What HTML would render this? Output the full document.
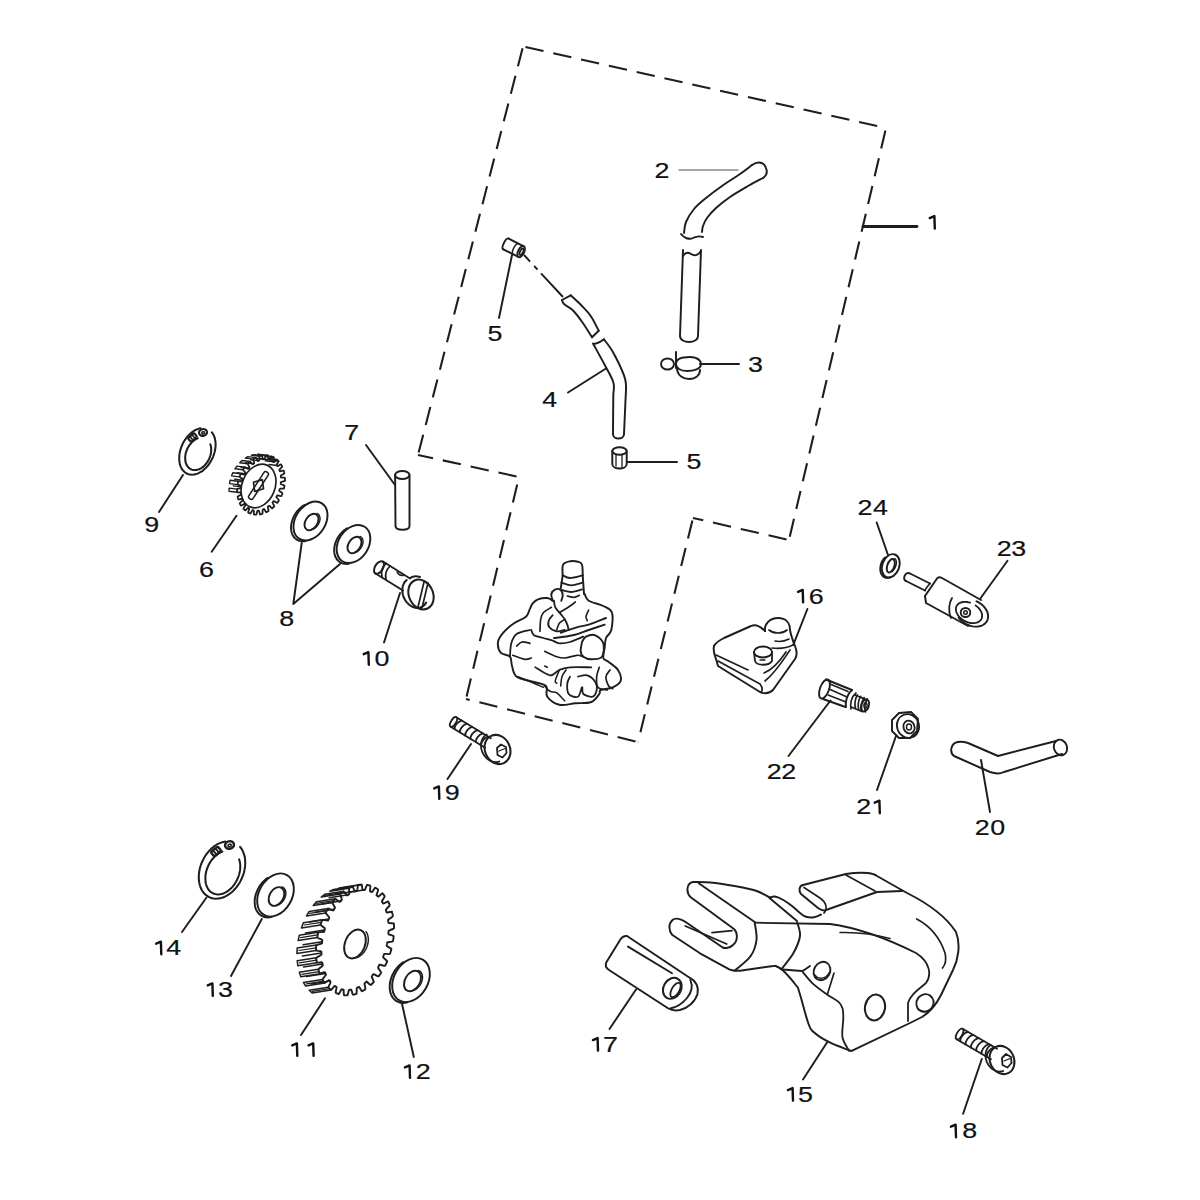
<!DOCTYPE html>
<html><head><meta charset="utf-8"><title>Parts diagram</title>
<style>
html,body{margin:0;padding:0;background:#fff;width:1200px;height:1200px;overflow:hidden}
svg{display:block}
.t{font-family:"Liberation Sans",sans-serif;font-size:22px;fill:#111;text-anchor:middle;stroke:#111;stroke-width:0.2}
</style></head><body>
<svg width="1200" height="1200" viewBox="0 0 1200 1200">
<rect width="1200" height="1200" fill="#fff"/>
<g fill="none" stroke="#1e1e1e" stroke-width="1.95" stroke-linecap="round" stroke-linejoin="round">
<path d="M523,46.5 L886,128" stroke-width="2.1" stroke-dasharray="18.5 10" stroke-dashoffset="26" stroke-linecap="butt"/>
<path d="M886,128 L789,540" stroke-width="2.1" stroke-dasharray="18.5 10" stroke-dashoffset="26" stroke-linecap="butt"/>
<path d="M789,540 L693,518" stroke-width="2.1" stroke-dasharray="18.5 10" stroke-dashoffset="26" stroke-linecap="butt"/>
<path d="M693,518 L638,742" stroke-width="2.1" stroke-dasharray="18.5 10" stroke-dashoffset="26" stroke-linecap="butt"/>
<path d="M638,742 L466,699" stroke-width="2.1" stroke-dasharray="18.5 10" stroke-dashoffset="26" stroke-linecap="butt"/>
<path d="M466,699 L519,477" stroke-width="2.1" stroke-dasharray="18.5 10" stroke-dashoffset="26" stroke-linecap="butt"/>
<path d="M519,477 L418,455" stroke-width="2.1" stroke-dasharray="18.5 10" stroke-dashoffset="26" stroke-linecap="butt"/>
<path d="M418,455 L523,46.5" stroke-width="2.1" stroke-dasharray="18.5 10" stroke-dashoffset="26" stroke-linecap="butt"/>
<g>
<path d="M863,226.5 L917,226.5" stroke-width="2.76"/>
<path d="M679,170 L738,170" stroke="#8a8a8a" stroke-width="1.38"/>
<path d="M700,364 L739,364" stroke-width="2.07"/>
<path d="M606,368.5 L568,392.5"/>
<path d="M512,255 L499,318"/>
<path d="M627,462 L677,462" stroke-width="2.07"/>
<path d="M366,445 L395,485"/>
<path d="M183,475 L159,512"/>
<path d="M236.5,515.7 L211.7,551.7"/>
<path d="M301.7,543 L293.3,604 L340,564"/>
<path d="M400,593 L384,642.5"/>
<path d="M471,744 L447.5,779"/>
<path d="M807.4,609 L793.3,644.8"/>
<path d="M876.7,522.5 L888,555"/>
<path d="M1007.5,560.8 L980,599"/>
<path d="M830.5,700.5 L788.5,756"/>
<path d="M896,736 L877,790"/>
<path d="M981,760 L990,812"/>
<path d="M206.5,897.5 L182,932"/>
<path d="M261.8,919 L231,976"/>
<path d="M325,998.3 L301,1035"/>
<path d="M402,1003.8 L413.8,1057"/>
<path d="M636,989.5 L609.5,1029"/>
<path d="M827.5,1041.7 L803,1079.5"/>
<path d="M981.8,1059 L963.1,1113.8"/>
</g>
<g>
<path d="M684,233 C684.3,231.2 684.3,226 686,222 C687.7,218 690.7,213 694,209 C697.3,205 701.3,201.8 706,198 C710.7,194.2 716.3,190 722,186 C727.7,182 735,177.5 740,174 C745,170.5 750,166.5 752,165" />
<path d="M752,165 C758,161 764,162 766,168 C768,173 766,176 763,178" />
<path d="M763,178 C760.5,179.3 753.5,182.8 748,186 C742.5,189.2 735.3,193.3 730,197 C724.7,200.7 719.8,204.5 716,208 C712.2,211.5 709.2,215 707,218 C704.8,221 703.8,223.7 703,226 C702.2,228.3 702.2,231 702,232" />
<path d="M681,234 C684,238 689,240 693,238 C697,236 700,236 703,237" />
<path d="M701,251 C698,256 694,256 691,254 C688,252 685,253 683,256" />
<path d="M683,250 L680,336 C680,344 698,344 698,336 L701,250" />
<ellipse cx="667.5" cy="364" rx="6.5" ry="5.5" />
<path d="M676,364 C676,358 684,357 690,357 C698,357 701,361 701,364 C701,369 694,371 687,371 C680,371 676,368 676,364" />
<path d="M677,368 C677,376 684,379 689,379 C696,379 700,375 700,370" />
<path d="M676,352 L676,368" />
<path d="M562,300 C562.3,300.7 562.1,302.2 564,304 C565.9,305.8 570.2,307.6 573.3,310.7 C576.4,313.8 579.6,318.3 582.7,322.7 C585.8,327.1 590.5,334.9 592,337.3" />
<path d="M562,300 L570.7,295.3" />
<path d="M570.7,295.3 C572.5,297 578,301.9 581.3,305.3 C584.6,308.8 587.8,311.8 590.7,316 C593.6,320.2 597.4,328.2 598.7,330.7" />
<path d="M598.7,330.7 L592,337.3" />
<path d="M593,343.5 C596,345 600,342 604,339.3" />
<path d="M604,339.3 C605.5,341.5 610,346.7 613.3,352.7 C616.6,358.7 621.9,369.8 624,375.3 C626.1,380.9 625.8,381.1 626,386 C626.2,390.9 625.6,396.7 625.3,404.7 C625,412.7 624.2,429.1 624,434" />
<path d="M624,434 C624,440 613,440 613,434" />
<path d="M613,434 C613,427.8 613.2,405.2 613.3,396.7 C613.4,388.2 614.8,388.1 613.5,383 C612.2,377.9 608.7,372.5 605.3,366 C601.9,359.5 595.3,347.7 593.3,344" />
<g transform="translate(514,248) rotate(27)"><path d="M-9,-6 L8,-6 M-9,6 L8,6" /><path d="M-9,-6 C-12,-6 -12,6 -9,6" /><ellipse cx="8" cy="0" rx="3" ry="6" /><ellipse cx="8.5" cy="0" rx="1.5" ry="3.5" /><path d="M2,-6 C-1,-6 -1,6 2,6" stroke-width="1.44"/></g>
<path d="M524,255 L563,297" stroke-dasharray="9 6 5 5 40" stroke-linecap="butt" stroke-width="1.92"/>
<ellipse cx="619.5" cy="451" rx="7.2" ry="3.8" />
<path d="M612.3,451 L612.3,464 C612.3,470 626.7,470 626.7,464 L626.7,451" />
<path d="M616,455 L616,466 M622,455 L622,467" stroke-width="1.32"/>
<ellipse cx="402.3" cy="475" rx="7.2" ry="4" />
<path d="M395.1,475 L395.5,526 C395.5,531 409.5,531 409.5,526 L409.5,475" />
<ellipse cx="310.5" cy="521" rx="15" ry="21" transform="rotate(33 310.5 521)" />
<path d="M305.8,541 L304.3,541.2 L302.8,541.3 L301.3,541.2 L299.9,540.9 L298.5,540.5 L297.2,539.9 L296.1,539.1 L295,538.2 L294,537.2 L293.2,536 L292.5,534.7 L291.9,533.3 L291.5,531.8 L291.2,530.2 L291,528.6 L291,526.8 L291.2,525.1 L291.5,523.3 L291.9,521.5 L292.5,519.7 L293.2,517.9 L294,516.1 L295,514.4 L296,512.8 L297.2,511.2 L298.5,509.8 L299.8,508.4 L301.3,507.2 L302.7,506.1 L304.3,505.1" />
<ellipse cx="311.5" cy="522" rx="6" ry="9" transform="rotate(33 311.5 522)" />
<path d="M317,513.5 L317.5,513.7 L318,514 L318.4,514.3 L318.8,514.7 L319.1,515.2 L319.4,515.7 L319.7,516.3 L319.8,516.9 L320,517.6 L320,518.3 L320,519 L320,519.7 L319.8,520.5 L319.6,521.2 L319.4,522 L319.1,522.8 L318.8,523.5 L318.4,524.2 L317.9,524.9 L317.4,525.6 L316.9,526.3 L316.3,526.9 L315.8,527.4 L315.1,527.9 L314.5,528.4 L313.9,528.8 L313.2,529.1 L312.6,529.4 L311.9,529.5 L311.3,529.7" stroke-width="1.44"/>
<ellipse cx="353.5" cy="544" rx="15" ry="20.5" transform="rotate(33 353.5 544)" />
<path d="M349.1,563.6 L347.5,563.9 L346,563.9 L344.5,563.8 L343.1,563.5 L341.8,563.1 L340.5,562.5 L339.3,561.7 L338.3,560.8 L337.3,559.8 L336.4,558.6 L335.7,557.3 L335.1,556 L334.7,554.5 L334.4,552.9 L334.2,551.3 L334.2,549.6 L334.3,547.8 L334.6,546.1 L335,544.3 L335.5,542.5 L336.2,540.8 L337,539.1 L338,537.4 L339,535.8 L340.2,534.3 L341.4,532.9 L342.7,531.6 L344.1,530.3 L345.6,529.3 L347.1,528.3" />
<ellipse cx="354.5" cy="545" rx="6" ry="9" transform="rotate(33 354.5 545)" />
<path d="M360,536.5 L360.5,536.7 L361,537 L361.4,537.3 L361.8,537.7 L362.1,538.2 L362.4,538.7 L362.7,539.3 L362.8,539.9 L363,540.6 L363,541.3 L363,542 L363,542.7 L362.8,543.5 L362.6,544.2 L362.4,545 L362.1,545.8 L361.8,546.5 L361.4,547.2 L360.9,547.9 L360.4,548.6 L359.9,549.3 L359.3,549.9 L358.8,550.4 L358.1,550.9 L357.5,551.4 L356.9,551.8 L356.2,552.1 L355.6,552.4 L354.9,552.5 L354.3,552.7" stroke-width="1.44"/>
<ellipse cx="275.5" cy="895" rx="16.5" ry="23" transform="rotate(30 275.5 895)" />
<path d="M271.8,916.9 L270.1,917.3 L268.4,917.4 L266.8,917.4 L265.2,917.2 L263.7,916.8 L262.3,916.2 L260.9,915.4 L259.7,914.5 L258.6,913.4 L257.6,912.2 L256.7,910.8 L256,909.3 L255.4,907.7 L255,905.9 L254.8,904.1 L254.7,902.2 L254.7,900.3 L254.9,898.3 L255.3,896.3 L255.8,894.3 L256.5,892.3 L257.3,890.4 L258.3,888.4 L259.3,886.6 L260.5,884.8 L261.8,883.2 L263.2,881.6 L264.7,880.2 L266.3,878.8 L267.9,877.7" />
<ellipse cx="276.5" cy="896.5" rx="7" ry="10" transform="rotate(30 276.5 896.5)" />
<path d="M281.9,886.9 L282.5,887.1 L283.1,887.4 L283.6,887.8 L284.1,888.2 L284.5,888.7 L284.9,889.3 L285.2,889.9 L285.5,890.6 L285.7,891.3 L285.8,892.1 L285.9,892.9 L285.8,893.7 L285.8,894.6 L285.6,895.5 L285.4,896.3 L285.1,897.2 L284.8,898 L284.4,898.9 L283.9,899.7 L283.4,900.5 L282.9,901.2 L282.3,901.9 L281.7,902.6 L281,903.2 L280.3,903.7 L279.6,904.1 L278.9,904.5 L278.2,904.8 L277.4,905.1 L276.7,905.2" stroke-width="1.44"/>
<ellipse cx="411" cy="980" rx="17" ry="23.5" transform="rotate(30 411 980)" />
<path d="M407.3,1002.4 L405.6,1002.8 L403.9,1002.9 L402.2,1002.9 L400.6,1002.7 L399,1002.2 L397.5,1001.6 L396.2,1000.9 L394.9,999.9 L393.7,998.8 L392.7,997.5 L391.8,996.1 L391.1,994.6 L390.5,992.9 L390.1,991.1 L389.8,989.3 L389.7,987.3 L389.7,985.3 L389.9,983.3 L390.3,981.3 L390.8,979.2 L391.5,977.2 L392.3,975.2 L393.3,973.2 L394.4,971.3 L395.6,969.5 L397,967.8 L398.4,966.2 L399.9,964.7 L401.5,963.4 L403.2,962.2" />
<ellipse cx="412.5" cy="981" rx="7.5" ry="11" transform="rotate(30 412.5 981)" />
<path d="M418.3,970.5 L419,970.7 L419.6,971 L420.1,971.4 L420.7,971.9 L421.1,972.4 L421.5,973.1 L421.9,973.8 L422.1,974.5 L422.3,975.3 L422.5,976.1 L422.5,977 L422.5,977.9 L422.4,978.9 L422.2,979.8 L422,980.8 L421.7,981.7 L421.3,982.7 L420.9,983.6 L420.4,984.5 L419.8,985.3 L419.2,986.1 L418.6,986.9 L417.9,987.6 L417.2,988.3 L416.4,988.9 L415.6,989.4 L414.9,989.8 L414.1,990.2 L413.3,990.4 L412.5,990.6" stroke-width="1.44"/>
<ellipse cx="890.8" cy="565.8" rx="8.5" ry="12" transform="rotate(20 890.8 565.8)" />
<path d="M890.5,577.2 L889.7,577.6 L888.9,577.8 L888,577.9 L887.2,578 L886.4,577.9 L885.6,577.7 L884.9,577.5 L884.2,577.1 L883.5,576.7 L882.9,576.1 L882.3,575.5 L881.8,574.8 L881.4,574 L881,573.1 L880.7,572.2 L880.5,571.3 L880.4,570.3 L880.3,569.2 L880.3,568.2 L880.4,567.1 L880.6,566 L880.8,564.9 L881.2,563.9 L881.5,562.8 L882,561.8 L882.5,560.8 L883.1,559.9 L883.7,559 L884.4,558.2 L885.1,557.5" />
<ellipse cx="890.8" cy="565.8" rx="3.5" ry="7" transform="rotate(20 890.8 565.8)" />
<path d="M894.1,558.6 L894.4,558.6 L894.7,558.7 L895,558.9 L895.3,559.1 L895.5,559.3 L895.8,559.6 L895.9,560 L896.1,560.4 L896.2,560.9 L896.3,561.3 L896.4,561.9 L896.4,562.4 L896.4,563 L896.3,563.6 L896.2,564.2 L896.1,564.8 L895.9,565.4 L895.7,566 L895.5,566.6 L895.3,567.3 L895,567.8 L894.7,568.4 L894.4,568.9 L894.1,569.4 L893.7,569.9 L893.4,570.3 L893,570.7 L892.6,571.1 L892.2,571.4 L891.9,571.6" stroke-width="1.44"/>
<path d="M211.9,432.4 L212.7,433.6 L213.4,434.8 L214.1,436.1 L214.6,437.6 L215,439.1 L215.3,440.7 L215.5,442.4 L215.6,444.1 L215.6,445.8 L215.4,447.6 L215.2,449.5 L214.8,451.3 L214.3,453.1 L213.7,455 L213.1,456.8 L212.3,458.6 L211.4,460.3 L210.4,461.9 L209.4,463.6 L208.3,465.1 L207.1,466.5 L205.8,467.9 L204.5,469.1 L203.2,470.3 L201.8,471.3 L200.4,472.2 L199,472.9 L197.6,473.6 L196.1,474.1 L194.7,474.4 L193.3,474.6 L191.9,474.7 L190.5,474.6 L189.2,474.4 L188,474 L186.8,473.5 L185.6,472.8 L184.6,472 L183.6,471.1 L182.7,470.1 L181.9,468.9 L181.2,467.7 L180.6,466.3 L180.1,464.9 L179.7,463.3 L179.4,461.7 L179.3,460 L179.2,458.3 L179.3,456.5 L179.4,454.7 L179.7,452.9 L180.1,451 L180.6,449.2 L181.2,447.4 L181.9,445.6 L182.7,443.8 L183.6,442.1 L184.6,440.4 L185.7,438.9 L186.8,437.3 L188,435.9 L189.3,434.6 L190.6,433.4 L191.9,432.3 L193.3,431.3 L194.7,430.4 L196.2,429.7 L197.6,429.1 L199,428.6 L200.5,428.3" stroke-width="2.04"/>
<path d="M210.3,444.2 L210.6,445.2 L210.9,446.2 L211.1,447.2 L211.2,448.3 L211.2,449.4 L211.2,450.5 L211.1,451.7 L211,452.9 L210.7,454 L210.5,455.2 L210.1,456.4 L209.7,457.5 L209.2,458.7 L208.7,459.8 L208.1,460.8 L207.5,461.9 L206.8,462.9 L206,463.8 L205.3,464.7 L204.5,465.6 L203.6,466.4 L202.7,467.1 L201.9,467.7 L200.9,468.3 L200,468.8 L199.1,469.2 L198.1,469.6 L197.2,469.8 L196.3,470 L195.3,470.1 L194.4,470.1 L193.5,470 L192.7,469.9 L191.8,469.6 L191,469.3 L190.2,468.9 L189.5,468.4 L188.8,467.9 L188.2,467.2 L187.6,466.5 L187.1,465.7 L186.6,464.9 L186.2,464 L185.9,463.1 L185.6,462.1 L185.4,461.1 L185.3,460 L185.2,458.9 L185.2,457.8 L185.2,456.6 L185.4,455.5 L185.5,454.3 L185.8,453.1 L186.1,451.9 L186.5,450.8 L187,449.6 L187.5,448.5 L188,447.4 L188.6,446.4 L189.3,445.4 L190,444.4 L190.8,443.5 L191.6,442.6 L192.4,441.8 L193.3,441 L194.1,440.4 L195.1,439.7 L196,439.2 L196.9,438.7 L197.8,438.4" stroke-width="2.04"/>
<g transform="translate(192.5,437.5) rotate(-40) scale(0.9)"><rect x="-4.5" y="-2.8" width="9" height="5.6" rx="1.5" stroke-width="2.40"/><path d="M-1.5,-2.8 L-1.5,2.8 M1.5,-2.8 L1.5,2.8" stroke-width="1.80"/></g>
<g transform="translate(203,432.5) rotate(-15) scale(0.9)"><ellipse cx="0" cy="0" rx="4.5" ry="3.8" stroke-width="2.40"/><ellipse cx="0" cy="0.5" rx="1.6" ry="1.3" stroke-width="1.68"/></g>
<path d="M240.1,846.9 L241.2,848.4 L242.2,849.9 L243,851.6 L243.7,853.4 L244.3,855.3 L244.8,857.3 L245.1,859.3 L245.2,861.5 L245.2,863.7 L245.1,865.9 L244.8,868.1 L244.4,870.4 L243.9,872.7 L243.2,874.9 L242.3,877.1 L241.4,879.3 L240.3,881.4 L239.1,883.5 L237.8,885.4 L236.4,887.3 L234.9,889 L233.4,890.7 L231.7,892.2 L230.1,893.5 L228.3,894.7 L226.5,895.8 L224.7,896.7 L222.9,897.5 L221,898 L219.2,898.4 L217.4,898.6 L215.6,898.7 L213.9,898.5 L212.2,898.2 L210.5,897.7 L209,897 L207.5,896.2 L206.1,895.2 L204.8,894 L203.6,892.7 L202.6,891.3 L201.6,889.7 L200.8,888 L200.1,886.1 L199.6,884.2 L199.2,882.2 L198.9,880.1 L198.8,878 L198.8,875.8 L199,873.5 L199.3,871.3 L199.7,869 L200.3,866.8 L201,864.5 L201.9,862.3 L202.9,860.2 L204,858.1 L205.2,856 L206.5,854.1 L207.9,852.3 L209.4,850.6 L211,848.9 L212.7,847.5 L214.4,846.1 L216.1,845 L217.9,843.9 L219.8,843.1 L221.6,842.4 L223.4,841.9 L225.3,841.5" stroke-width="2.04"/>
<path d="M239.1,859.3 L239.5,860.6 L239.8,862 L240.1,863.4 L240.2,864.8 L240.3,866.3 L240.2,867.9 L240.1,869.4 L239.9,871 L239.6,872.6 L239.2,874.2 L238.7,875.8 L238.1,877.3 L237.5,878.8 L236.8,880.3 L236,881.8 L235.1,883.2 L234.2,884.6 L233.2,885.9 L232.2,887.1 L231.1,888.2 L229.9,889.3 L228.8,890.3 L227.6,891.1 L226.4,891.9 L225.1,892.6 L223.9,893.2 L222.6,893.7 L221.3,894 L220.1,894.3 L218.8,894.4 L217.6,894.4 L216.4,894.3 L215.3,894.1 L214.2,893.8 L213.1,893.3 L212.1,892.8 L211.1,892.2 L210.2,891.4 L209.3,890.6 L208.6,889.6 L207.9,888.6 L207.3,887.5 L206.7,886.3 L206.3,885 L205.9,883.7 L205.6,882.3 L205.5,880.8 L205.4,879.3 L205.4,877.8 L205.4,876.3 L205.6,874.7 L205.9,873.1 L206.2,871.5 L206.7,869.9 L207.2,868.4 L207.8,866.8 L208.5,865.3 L209.3,863.8 L210.1,862.4 L211,861 L211.9,859.7 L213,858.5 L214,857.3 L215.1,856.2 L216.3,855.2 L217.5,854.2 L218.7,853.4 L219.9,852.7 L221.2,852.1 L222.4,851.5" stroke-width="2.04"/>
<g transform="translate(216,851.5) rotate(-40) scale(1.0)"><rect x="-4.5" y="-2.8" width="9" height="5.6" rx="1.5" stroke-width="2.40"/><path d="M-1.5,-2.8 L-1.5,2.8 M1.5,-2.8 L1.5,2.8" stroke-width="1.80"/></g>
<g transform="translate(229.5,845) rotate(-15) scale(1.0)"><ellipse cx="0" cy="0" rx="4.5" ry="3.8" stroke-width="2.40"/><ellipse cx="0" cy="0.5" rx="1.6" ry="1.3" stroke-width="1.68"/></g>
<path d="M281.7,492.6 L282.4,493.3 L282.3,493.8 L282.1,494.3 L281.9,494.7 L281.7,495.2 L281.5,495.6 L281.3,496.1 L279.7,495.8 L277.8,495.3 L277.1,495.5 L276.9,495.9 L276.7,496.2 L276.5,496.6 L276.3,497 L277.1,498 L278.4,499.5 L278.9,500.4 L278.7,500.8 L278.4,501.3 L278.1,501.7 L277.8,502.1 L277.6,502.5 L277.3,502.8 L275.8,502.2 L274.2,501.2 L273.5,501.2 L273.3,501.5 L273,501.8 L272.7,502.2 L272.5,502.5 L273,503.6 L273.9,505.4 L274.2,506.5 L273.8,506.8 L273.5,507.1 L273.2,507.5 L272.8,507.8 L272.5,508.1 L272.1,508.4 L271,507.4 L269.6,506 L269.1,505.8 L268.8,506.1 L268.4,506.3 L268.1,506.5 L267.8,506.8 L268,508 L268.5,510 L268.5,511.1 L268.2,511.3 L267.8,511.5 L267.4,511.7 L267,511.9 L266.6,512.1 L266.3,512.3 L265.4,511.1 L264.5,509.4 L264,509 L263.7,509.2 L263.4,509.3 L263.1,509.5 L262.7,509.6 L262.6,510.8 L262.6,512.8 L262.4,513.9 L262,514 L261.6,514.1 L261.2,514.2 L260.8,514.3 L260.4,514.4 L260,514.4 L259.6,513 L259.1,511.1 L258.8,510.6 L258.5,510.6 L258.2,510.7 L257.8,510.7 L257.5,510.7 L257.1,511.9 L256.6,513.8 L256.1,514.7 L255.7,514.7 L255.4,514.7 L255,514.6 L254.6,514.6 L254.2,514.6 L253.9,514.5 L253.8,512.9 L253.9,511 L253.7,510.4 L253.4,510.3 L253.1,510.3 L252.8,510.2 L252.5,510.1 L251.9,511.1 L250.9,512.8 L250.2,513.5 L249.9,513.4 L249.5,513.2 L249.2,513.1 L248.8,512.9 L248.5,512.8 L248.2,512.6 L248.5,511 L249.2,509.2 L249.1,508.5 L248.9,508.3 L248.6,508.2 L248.4,508 L248.1,507.8 L247.2,508.5 L245.9,509.9 L245,510.4 L244.7,510.1 L244.5,509.9 L244.2,509.6 L243.9,509.3 L243.6,509.1 L243.4,508.8 L244.1,507.3 L245.2,505.7 L245.4,505 L245.2,504.7 L245,504.5 L244.8,504.2 L244.6,503.9 L243.5,504.4 L241.9,505.3 L240.9,505.5 L240.7,505.2 L240.5,504.8 L240.3,504.5 L240.1,504.1 L239.9,503.7 L239.7,503.3 L240.9,502.1 L242.3,500.7 L242.7,500.1 L242.5,499.8 L242.4,499.4 L242.3,499.1 L242.2,498.7 L241,498.9 L239.2,499.3 L238.2,499.3 L238.1,498.9 L238,498.4 L237.9,498 L237.8,497.5 L237.7,497.1 L237.6,496.7 L239,495.7 L240.7,494.8 L241.2,494.2 L241.2,493.8 L241.1,493.4 L241.1,493 L241.1,492.6 L239.9,492.4 L238,492.4 L237,492 L237,491.6 L237,491.1 L237,490.6 L237,490.1 L237,489.7 L237,489.2 L238.6,488.6 L240.5,488.1 L241.1,487.7 L241.1,487.3 L241.2,486.9 L241.2,486.4 L241.3,486 L240.2,485.5 L238.3,484.9 L237.5,484.3 L237.6,483.8 L237.7,483.4 L237.8,482.9 L237.9,482.4 L238,481.9 L238.1,481.4 L239.7,481.3 L241.7,481.3 L242.3,481 L242.5,480.6 L242.6,480.1 L242.7,479.7 L242.9,479.3 L241.9,478.5 L240.3,477.4 L239.6,476.7 L239.7,476.2 L239.9,475.7 L240.1,475.3 L240.3,474.8 L240.5,474.4 L240.7,473.9 L242.3,474.2 L244.2,474.7 L244.9,474.5 L245.1,474.1 L245.3,473.8 L245.5,473.4 L245.7,473 L244.9,472 L243.6,470.5 L243.1,469.6 L243.3,469.2 L243.6,468.7 L243.9,468.3 L244.2,467.9 L244.4,467.5 L244.7,467.2 L246.2,467.8 L247.8,468.8 L248.5,468.8 L248.7,468.5 L249,468.2 L249.3,467.8 L249.5,467.5 L249,466.4 L248.1,464.6 L247.8,463.5 L248.2,463.2 L248.5,462.9 L248.8,462.5 L249.2,462.2 L249.5,461.9 L249.9,461.6 L251,462.6 L252.4,464 L252.9,464.2 L253.2,463.9 L253.6,463.7 L253.9,463.5 L254.2,463.2 L254,462 L253.5,460 L253.5,458.9 L253.8,458.7 L254.2,458.5 L254.6,458.3 L255,458.1 L255.4,457.9 L255.7,457.7 L256.6,458.9 L257.5,460.6 L258,461 L258.3,460.8 L258.6,460.7 L258.9,460.5 L259.3,460.4 L259.4,459.2 L259.4,457.2 L259.6,456.1 L260,456 L260.4,455.9 L260.8,455.8 L261.2,455.7 L261.6,455.6 L262,455.6 L262.4,457 L262.9,458.9 L263.2,459.4 L263.5,459.4 L263.8,459.3 L264.2,459.3 L264.5,459.3 L264.9,458.1 L265.4,456.2 L265.9,455.3 L266.3,455.3 L266.6,455.3 L267,455.4 L267.4,455.4 L267.8,455.4 L268.1,455.5 L268.2,457.1 L268.1,459 L268.3,459.6 L268.6,459.7 L268.9,459.7 L269.2,459.8 L269.5,459.9 L270.1,458.9 L271.1,457.2 L271.8,456.5 L272.1,456.6 L272.5,456.8 L272.8,456.9 L273.2,457.1 L273.5,457.2 L273.8,457.4 L273.5,459 L272.8,460.8 L272.9,461.5 L273.1,461.7 L273.4,461.8 L273.6,462 L273.9,462.2 L274.8,461.5 L276.1,460.1 L277,459.6 L277.3,459.9 L277.5,460.1 L277.8,460.4 L278.1,460.7 L278.4,460.9 L278.6,461.2 L277.9,462.7 L276.8,464.3 L276.6,465 L276.8,465.3 L277,465.5 L277.2,465.8 L277.4,466.1 L278.5,465.6 L280.1,464.7 L281.1,464.5 L281.3,464.8 L281.5,465.2 L281.7,465.5 L281.9,465.9 L282.1,466.3 L282.3,466.7 L281.1,467.9 L279.7,469.3 L279.3,469.9 L279.5,470.2 L279.6,470.6 L279.7,470.9 L279.8,471.3 L281,471.1 L282.8,470.7 L283.8,470.7 L283.9,471.1 L284,471.6 L284.1,472 L284.2,472.5 L284.3,472.9 L284.4,473.3 L283,474.3 L281.3,475.2 L280.8,475.8 L280.8,476.2 L280.9,476.6 L280.9,477 L280.9,477.4 L282.1,477.6 L284,477.6 L285,478 L285,478.4 L285,478.9 L285,479.4 L285,479.9 L285,480.3 L285,480.8 L283.4,481.4 L281.5,481.9 L280.9,482.3 L280.9,482.7 L280.8,483.1 L280.8,483.6 L280.7,484 L281.8,484.5 L283.7,485.1 L284.5,485.7 L284.4,486.2 L284.3,486.6 L284.2,487.1 L284.1,487.6 L284,488.1 L283.9,488.6 L282.3,488.7 L280.3,488.7 L279.7,489 L279.5,489.4 L279.4,489.9 L279.3,490.3 L279.1,490.7 L280.1,491.5 L281.7,492.6" stroke-width="1.80"/>
<path d="M237.1,492.3 L229.1,491.3 L229,488.1 L237,489.1" stroke-width="1.38"/>
<path d="M241.2,486.9 L233.2,485.9" stroke-width="1.38"/>
<path d="M237.5,484.6 L229.5,483.6 L230.1,480.3 L238.1,481.3" stroke-width="1.38"/>
<path d="M242.6,480.2 L234.6,479.2" stroke-width="1.38"/>
<path d="M239.5,476.9 L231.5,475.9 L232.8,472.8 L240.8,473.8" stroke-width="1.38"/>
<path d="M245.2,473.8 L237.2,472.8" stroke-width="1.38"/>
<path d="M242.9,469.8 L234.9,468.8 L236.8,466.1 L244.8,467.1" stroke-width="1.38"/>
<path d="M249,468.2 L241,467.2" stroke-width="1.38"/>
<path d="M247.7,463.7 L239.7,462.7 L241.9,460.5 L249.9,461.5" stroke-width="1.38"/>
<path d="M253.5,463.7 L245.5,462.7" stroke-width="1.38"/>
<path d="M253.3,459.1 L245.3,458.1 L247.8,456.6 L255.8,457.6" stroke-width="1.38"/>
<path d="M258.6,460.7 L250.6,459.7" stroke-width="1.38"/>
<path d="M259.4,456.2 L251.4,455.2 L254.1,454.6 L262.1,455.6" stroke-width="1.38"/>
<path d="M263.8,459.3 L255.8,458.3" stroke-width="1.38"/>
<path d="M265.7,455.3 L257.7,454.3 L260.2,454.5 L268.2,455.5" stroke-width="1.38"/>
<path d="M268.8,459.7 L260.8,458.7" stroke-width="1.38"/>
<path d="M271.6,456.4 L263.6,455.4 L265.9,456.5 L273.9,457.5" stroke-width="1.38"/>
<path d="M273.3,461.8 L265.3,460.8" stroke-width="1.38"/>
<path d="M276.8,459.5 L268.8,458.5 L270.7,460.3 L278.7,461.3" stroke-width="1.38"/>
<path d="M277,465.5 L269,464.5" stroke-width="1.38"/>
<ellipse cx="258.5" cy="486" rx="16.5" ry="22.5" transform="rotate(22 258.5 486)" stroke-width="1.68"/>
<g transform="translate(258.5,485.5) rotate(-57)"><path d="M-14,-2.5 L14,-2.5 C16.5,-2.5 16.5,2.5 14,2.5 L-14,2.5 C-16.5,2.5 -16.5,-2.5 -14,-2.5 Z" stroke-width="1.56"/><path d="M-7,0 L0,-6 L7,0 L0,6 Z" stroke-width="1.68"/></g>
<path d="M391.2,949.7 L391,950.5 L390.8,951.3 L390.5,952.1 L390.3,952.9 L390.1,953.6 L388.8,954.1 L386.1,953.9 L384.2,953.9 L383.9,954.6 L383.7,955.3 L383.4,956 L383.1,956.7 L383.4,957.6 L385.4,959.5 L387.2,961.3 L386.9,962 L386.5,962.8 L386.2,963.5 L385.9,964.2 L385.5,965 L385.1,965.7 L383.9,965.8 L381.4,965 L379.5,964.6 L379.2,965.3 L378.9,965.9 L378.5,966.5 L378.2,967.1 L378.2,968.1 L379.9,970.4 L381.2,972.5 L380.8,973.2 L380.4,973.8 L379.9,974.4 L379.5,975.1 L379.1,975.7 L378.6,976.3 L377.4,976.1 L375.2,974.8 L373.6,974 L373.2,974.5 L372.7,975 L372.3,975.6 L371.9,976.1 L371.8,977 L373,979.6 L373.8,982 L373.3,982.5 L372.8,983 L372.3,983.5 L371.8,984 L371.3,984.5 L370.8,985 L369.7,984.5 L367.9,982.7 L366.6,981.5 L366.2,981.9 L365.7,982.3 L365.2,982.7 L364.8,983.1 L364.5,983.9 L365.1,986.7 L365.4,989.2 L364.9,989.6 L364.4,989.9 L363.8,990.3 L363.2,990.6 L362.7,990.9 L362.1,991.2 L361.3,990.5 L360,988.3 L359,986.8 L358.5,987.1 L358.1,987.3 L357.6,987.5 L357.1,987.7 L356.7,988.5 L356.7,991.3 L356.5,993.8 L355.9,994 L355.4,994.1 L354.8,994.3 L354.2,994.5 L353.6,994.6 L353.1,994.7 L352.5,993.8 L351.8,991.3 L351.2,989.6 L350.7,989.7 L350.2,989.7 L349.8,989.8 L349.3,989.8 L348.8,990.4 L348.1,993.1 L347.4,995.4 L346.9,995.4 L346.3,995.4 L345.8,995.4 L345.2,995.4 L344.7,995.3 L344.1,995.3 L343.8,994.2 L343.7,991.5 L343.6,989.7 L343.2,989.6 L342.7,989.5 L342.3,989.4 L341.8,989.3 L341.2,989.6 L340,992 L338.8,994.1 L338.3,993.9 L337.8,993.7 L337.3,993.5 L336.8,993.3 L336.3,993.1 L335.8,992.8 L335.7,991.6 L336.3,989 L336.6,987.1 L336.2,986.8 L335.8,986.6 L335.4,986.3 L335,986 L334.4,986.2 L332.7,988.2 L331,989.9 L330.6,989.5 L330.2,989.1 L329.7,988.8 L329.3,988.4 L328.9,988 L328.5,987.6 L328.7,986.3 L329.9,983.8 L330.6,982 L330.3,981.6 L330,981.1 L329.7,980.7 L329.3,980.3 L328.7,980.3 L326.5,981.7 L324.6,982.9 L324.2,982.4 L323.9,981.9 L323.5,981.4 L323.2,980.8 L322.9,980.3 L322.6,979.7 L323.1,978.5 L324.8,976.2 L326,974.6 L325.7,974 L325.5,973.5 L325.2,973 L325,972.4 L324.4,972.2 L321.9,973 L319.7,973.7 L319.5,973 L319.3,972.4 L319,971.7 L318.8,971.1 L318.6,970.4 L318.4,969.7 L319.2,968.6 L321.4,966.7 L322.8,965.3 L322.7,964.7 L322.6,964.1 L322.4,963.4 L322.3,962.8 L321.7,962.3 L319.1,962.6 L316.8,962.6 L316.7,961.9 L316.6,961.1 L316.5,960.4 L316.4,959.6 L316.3,958.9 L316.2,958.1 L317.2,957.1 L319.7,955.8 L321.5,954.7 L321.4,954 L321.4,953.3 L321.4,952.6 L321.4,951.9 L320.9,951.3 L318.2,950.9 L315.9,950.3 L316,949.5 L316,948.8 L316,948 L316.1,947.2 L316.1,946.4 L316.2,945.6 L317.3,944.8 L320,944 L321.9,943.3 L322,942.6 L322.1,941.9 L322.2,941.1 L322.3,940.4 L321.9,939.6 L319.4,938.6 L317.2,937.5 L317.3,936.7 L317.5,935.9 L317.6,935.1 L317.8,934.3 L318,933.5 L318.2,932.7 L319.4,932.1 L322.2,932 L324.1,931.7 L324.3,931 L324.5,930.3 L324.7,929.6 L324.9,928.9 L324.6,928 L322.4,926.4 L320.5,924.8 L320.7,924 L321,923.3 L321.3,922.5 L321.6,921.7 L321.9,921 L322.2,920.2 L323.4,919.9 L326.1,920.4 L328,920.6 L328.3,919.9 L328.6,919.2 L328.9,918.6 L329.2,917.9 L329,917 L327.2,914.9 L325.6,912.9 L326,912.2 L326.3,911.5 L326.7,910.8 L327.1,910.1 L327.5,909.5 L327.9,908.8 L329.2,908.8 L331.6,909.9 L333.3,910.5 L333.7,909.9 L334.1,909.3 L334.4,908.8 L334.8,908.2 L334.9,907.3 L333.4,904.8 L332.3,902.5 L332.8,901.9 L333.2,901.3 L333.7,900.7 L334.2,900.2 L334.7,899.6 L335.2,899.1 L336.3,899.4 L338.3,901 L339.8,902 L340.2,901.5 L340.7,901.1 L341.1,900.6 L341.6,900.2 L341.8,899.3 L340.9,896.6 L340.3,894.1 L340.8,893.6 L341.3,893.2 L341.8,892.8 L342.4,892.4 L342.9,892 L343.5,891.6 L344.4,892.1 L346,894.2 L347.1,895.5 L347.6,895.2 L348.1,894.9 L348.6,894.6 L349,894.3 L349.4,893.5 L349.1,890.7 L349,888.2 L349.6,887.9 L350.1,887.6 L350.7,887.4 L351.2,887.1 L351.8,886.9 L352.4,886.6 L353.1,887.5 L354.1,889.9 L354.9,891.5 L355.4,891.3 L355.9,891.2 L356.3,891 L356.8,890.9 L357.3,890.2 L357.6,887.5 L358.1,885 L358.6,884.9 L359.2,884.8 L359.8,884.8 L360.3,884.7 L360.9,884.7 L361.4,884.6 L361.9,885.6 L362.3,888.3 L362.6,890 L363.1,890 L363.6,890.1 L364.1,890.1 L364.5,890.1 L365.1,889.6 L366,887.1 L367,884.9 L367.5,885 L368,885.1 L368.6,885.2 L369.1,885.3 L369.6,885.4 L370.1,885.6 L370.4,886.7 L370.1,889.4 L370,891.3 L370.4,891.5 L370.8,891.6 L371.3,891.8 L371.7,892 L372.3,891.8 L373.8,889.5 L375.2,887.7 L375.7,887.9 L376.2,888.2 L376.6,888.5 L377.1,888.8 L377.6,889.1 L378,889.5 L378,890.7 L377.1,893.3 L376.5,895.2 L376.9,895.5 L377.3,895.8 L377.6,896.2 L378,896.5 L378.6,896.5 L380.6,894.7 L382.4,893.3 L382.8,893.7 L383.2,894.2 L383.6,894.6 L383.9,895.1 L384.3,895.6 L384.7,896.1 L384.3,897.3 L382.8,899.7 L381.9,901.5 L382.2,901.9 L382.5,902.4 L382.7,902.9 L383,903.4 L383.7,903.5 L386,902.4 L388.1,901.4 L388.4,902 L388.7,902.6 L388.9,903.2 L389.2,903.8 L389.5,904.4 L389.7,905.1 L389.1,906.3 L387.1,908.3 L385.8,909.9 L386,910.4 L386.2,911 L386.4,911.6 L386.5,912.2 L387.2,912.6 L389.7,912 L392,911.7 L392.1,912.4 L392.3,913.1 L392.5,913.8 L392.6,914.5 L392.8,915.2 L392.9,915.9 L392.1,917 L389.7,918.6 L388.1,919.8 L388.2,920.5 L388.2,921.2 L388.3,921.9 L388.4,922.5 L388.9,923.1 L391.6,923.2 L393.9,923.4 L393.9,924.2 L394,925 L394,925.7 L394,926.5 L394.1,927.3 L394.1,928.1 L393,929 L390.4,930 L388.6,930.9 L388.5,931.6 L388.5,932.4 L388.4,933.1 L388.4,933.8 L388.9,934.5 L391.4,935.2 L393.7,936.1 L393.6,936.9 L393.5,937.7 L393.4,938.5 L393.3,939.3 L393.2,940.1 L393.1,940.9 L391.9,941.6 L389.2,942 L387.2,942.5 L387.1,943.2 L386.9,944 L386.8,944.7 L386.6,945.4 L387,946.2 L389.4,947.6 L391.4,948.9 L391.2,949.7" stroke-width="1.92"/>
<path d="M331.1,989.9 L312.1,992.9 L309.2,990.3 L328.2,987.3" stroke-width="1.50"/>
<path d="M329.6,988.7 L312.5,991.4" stroke-width="1.20"/>
<path d="M329.9,981 L310.9,984" stroke-width="1.50"/>
<path d="M324.6,983 L305.6,986 L303.4,982.4 L322.4,979.4" stroke-width="1.50"/>
<path d="M323.5,981.2 L306.4,983.9" stroke-width="1.20"/>
<path d="M325.4,973.4 L306.4,976.4" stroke-width="1.50"/>
<path d="M319.8,973.8 L300.8,976.8 L299.3,972.3 L318.3,969.3" stroke-width="1.50"/>
<path d="M319,971.6 L301.9,974.3" stroke-width="1.20"/>
<path d="M322.5,963.9 L303.5,966.9" stroke-width="1.50"/>
<path d="M316.8,962.7 L297.8,965.7 L297.2,960.7 L316.2,957.7" stroke-width="1.50"/>
<path d="M316.5,960.2 L299.4,962.9" stroke-width="1.20"/>
<path d="M321.4,953.1 L302.4,956.1" stroke-width="1.50"/>
<path d="M315.9,950.4 L296.9,953.4 L297.2,948.1 L316.2,945.1" stroke-width="1.50"/>
<path d="M316,947.8 L298.9,950.5" stroke-width="1.20"/>
<path d="M322.1,941.7 L303.1,944.7" stroke-width="1.50"/>
<path d="M317.2,937.6 L298.2,940.6 L299.3,935.2 L318.3,932.2" stroke-width="1.50"/>
<path d="M317.7,934.9 L300.6,937.6" stroke-width="1.20"/>
<path d="M324.5,930.1 L305.5,933.1" stroke-width="1.50"/>
<path d="M320.4,924.9 L301.4,927.9 L303.4,922.8 L322.4,919.8" stroke-width="1.50"/>
<path d="M321.3,922.3 L304.2,925" stroke-width="1.20"/>
<path d="M328.6,919.1 L309.6,922.1" stroke-width="1.50"/>
<path d="M325.5,913 L306.5,916 L309.2,911.4 L328.2,908.4" stroke-width="1.50"/>
<path d="M326.8,910.7 L309.7,913.4" stroke-width="1.20"/>
<path d="M334.1,909.2 L315.1,912.2" stroke-width="1.50"/>
<path d="M332.3,902.6 L313.3,905.6 L316.5,901.8 L335.5,898.8" stroke-width="1.50"/>
<path d="M333.8,900.6 L316.7,903.3" stroke-width="1.20"/>
<path d="M340.8,901 L321.8,904" stroke-width="1.50"/>
<path d="M340.2,894.1 L321.2,897.1 L324.8,894.3 L343.8,891.3" stroke-width="1.50"/>
<path d="M342,892.7 L324.9,895.4" stroke-width="1.20"/>
<path d="M348.2,894.8 L329.2,897.8" stroke-width="1.50"/>
<path d="M348.9,888.2 L329.9,891.2 L333.7,889.5 L352.7,886.5" stroke-width="1.50"/>
<path d="M350.8,887.3 L333.7,890" stroke-width="1.20"/>
<path d="M356,891.1 L337,894.1" stroke-width="1.50"/>
<path d="M358,885 L339,888 L342.8,887.6 L361.8,884.6" stroke-width="1.50"/>
<path d="M359.9,884.8 L342.8,887.5" stroke-width="1.20"/>
<path d="M363.7,890.1 L344.7,893.1" stroke-width="1.50"/>
<ellipse cx="355" cy="944" rx="10" ry="15" transform="rotate(22 355 944)" />
<path d="M366,931.7 L366.5,932.5 L367,933.3 L367.4,934.3 L367.8,935.3 L368,936.3 L368.2,937.4 L368.3,938.6 L368.3,939.8 L368.3,941 L368.1,942.3 L367.9,943.5 L367.6,944.8 L367.2,946 L366.8,947.2 L366.2,948.4 L365.7,949.6 L365,950.7 L364.3,951.8 L363.5,952.8 L362.7,953.7 L361.9,954.5 L361,955.3 L360.1,956 L359.2,956.6 L358.2,957 L357.3,957.4 L356.3,957.7 L355.4,957.9 L354.5,957.9 L353.6,957.8" stroke-width="1.44"/>
<g transform="translate(453.5,722) rotate(31.3)"><path d="M0,-5.5 L40.4,-5.5 M0,5.5 L40.4,5.5" stroke-width="1.80"/><ellipse cx="0" cy="0" rx="2.5" ry="5.5" stroke-width="1.80"/><path d="M6.2,-5.5 C2.9,-2.2 2.9,3.3 4.6,5.5" stroke-width="1.80"/><path d="M12.4,-5.5 C9.1,-2.2 9.1,3.3 10.8,5.5" stroke-width="1.80"/><path d="M18.6,-5.5 C15.3,-2.2 15.3,3.3 17,5.5" stroke-width="1.80"/><path d="M24.9,-5.5 C21.6,-2.2 21.6,3.3 23.2,5.5" stroke-width="1.80"/><path d="M31.1,-5.5 C27.8,-2.2 27.8,3.3 29.4,5.5" stroke-width="1.80"/><path d="M37.3,-5.5 C34,-2.2 34,3.3 35.6,5.5" stroke-width="1.80"/></g>
<ellipse cx="497.5" cy="749.5" rx="12.5" ry="15" transform="rotate(-25 497.5 749.5)" stroke-width="2.04"/>
<path d="M499.3,761.5 L498.1,761.8 L496.9,762 L495.6,762.1 L494.4,762 L493.1,761.8 L491.8,761.4 L490.5,760.9 L489.3,760.2 L488.2,759.5 L487,758.6 L486,757.6 L485,756.5 L484.1,755.4 L483.4,754.1 L482.7,752.8 L482.1,751.4 L481.6,750 L481.3,748.6 L481.1,747.1 L481,745.7 L481.1,744.3 L481.2,742.9 L481.5,741.5 L481.9,740.3 L482.5,739 L483.1,737.9 L483.9,736.9 L484.7,735.9 L485.7,735.1 L486.7,734.4" stroke-width="1.80"/>
<path d="M497,748 L501,744.5 L506,747 L506.5,753 L502.5,757.5 L497.5,755 Z" stroke-width="1.80"/>
<path d="M499,751 L505,748.5" stroke-width="1.32"/>
<g transform="translate(959.6,1034) rotate(30.2)"><path d="M0,-6 L39.8,-6 M0,6 L39.8,6" stroke-width="1.80"/><ellipse cx="0" cy="0" rx="2.7" ry="6" stroke-width="1.80"/><path d="M6.1,-6 C2.5,-2.4 2.5,3.6 4.3,6" stroke-width="1.80"/><path d="M12.2,-6 C8.6,-2.4 8.6,3.6 10.4,6" stroke-width="1.80"/><path d="M18.4,-6 C14.8,-2.4 14.8,3.6 16.6,6" stroke-width="1.80"/><path d="M24.5,-6 C20.9,-2.4 20.9,3.6 22.7,6" stroke-width="1.80"/><path d="M30.6,-6 C27,-2.4 27,3.6 28.8,6" stroke-width="1.80"/><path d="M36.7,-6 C33.1,-2.4 33.1,3.6 34.9,6" stroke-width="1.80"/></g>
<ellipse cx="1002" cy="1060" rx="12" ry="14.5" transform="rotate(-25 1002 1060)" stroke-width="2.04"/>
<path d="M1003.2,1071 L1002,1071.4 L1000.8,1071.5 L999.6,1071.6 L998.4,1071.5 L997.1,1071.3 L995.9,1070.9 L994.7,1070.4 L993.5,1069.8 L992.4,1069.1 L991.3,1068.2 L990.3,1067.2 L989.4,1066.2 L988.5,1065.1 L987.8,1063.8 L987.1,1062.6 L986.6,1061.2 L986.1,1059.9 L985.8,1058.5 L985.6,1057.1 L985.5,1055.7 L985.6,1054.4 L985.7,1053 L986,1051.7 L986.4,1050.5 L986.9,1049.3 L987.5,1048.2 L988.2,1047.2 L989.1,1046.3 L990,1045.5 L990.9,1044.9" stroke-width="1.80"/>
<path d="M1002,1058 L1006,1054 L1011,1057 L1011.5,1063 L1007.5,1067.5 L1002.5,1065 Z" stroke-width="1.80"/>
<path d="M1004,1061 L1010,1058.5" stroke-width="1.32"/>
<path d="M383,561.5 L410,578.5 M375.5,573.5 L403,590.5" />
<ellipse cx="379" cy="567.5" rx="4" ry="7" transform="rotate(32 379 567.5)" />
<path d="M386,563.5 C382,567 381,572 382,576.5 M390,566 C386,570 385,575 386,579" stroke-width="1.68"/>
<path d="M397,572 C399,575 402,576 404,575" stroke-width="1.44"/>
<path d="M410,578 C413,576 417,576 420,577" stroke-width="2.04"/>
<path d="M426.1,602.6 L425.3,603.9 L424.4,605 L423.3,606 L422.2,606.7 L420.9,607.3 L419.6,607.7 L418.2,607.9 L416.7,607.9 L415.2,607.7 L413.8,607.3 L412.3,606.7 L410.9,605.9 L409.5,605 L408.2,603.8 L407,602.6 L405.9,601.2 L405,599.7 L404.1,598.1 L403.4,596.4 L402.9,594.7 L402.5,593 L402.3,591.2 L402.3,589.5 L402.5,587.9 L402.8,586.3 L403.3,584.8 L403.9,583.4 L404.7,582.1 L405.6,581 L406.7,580" stroke-width="2.04"/>
<ellipse cx="421" cy="594.5" rx="12" ry="15.5" transform="rotate(-25 421 594.5)" stroke-width="2.04"/>
<path d="M424,582 L418,607 M428,583 L422,608" stroke-width="1.68"/>
<path d="M892,720 L899,713 L911,712 L918,719 L917,731 L910,738 L899,738 L892,731 Z" stroke-width="1.92"/>
<ellipse cx="908" cy="726" rx="11" ry="12" transform="rotate(-20 908 726)" stroke-width="1.80"/>
<ellipse cx="909" cy="727" rx="5.5" ry="6.5" transform="rotate(-20 909 727)" stroke-width="1.80"/>
<ellipse cx="909" cy="727" rx="2.5" ry="3" stroke-width="1.44"/>
<path d="M826,679.5 L852,690 M823,699 L845.5,707" stroke-width="1.92"/>
<ellipse cx="824.5" cy="689" rx="4.5" ry="10" transform="rotate(20 824.5 689)" stroke-width="1.92"/>
<path d="M830,684 L848,691.5 M829,689 L847,697 M828,695 L846,702" stroke-width="1.44"/>
<path d="M852,690 C847,694 845,702 846,707" stroke-width="1.92"/>
<path d="M856,693 C851,697 850,704 851,709" stroke-width="1.68"/>
<path d="M855,695 L866,699.5 M851,707 L862,711.5" stroke-width="1.80"/>
<path d="M857.5,695 C854.5,699 854.5,706 855.5,708" stroke-width="1.68"/>
<path d="M860.8,696.3 C857.8,700.3 857.8,707.3 858.8,709.3" stroke-width="1.68"/>
<path d="M864.1,697.6 C861.1,701.6 861.1,708.6 862.1,710.6" stroke-width="1.68"/>
<path d="M867.4,698.9 C864.4,702.9 864.4,709.9 865.4,711.9" stroke-width="1.68"/>
<ellipse cx="865" cy="705.5" rx="3.8" ry="6.2" transform="rotate(20 865 705.5)" stroke-width="1.92"/>
<ellipse cx="865.5" cy="705.5" rx="1.6" ry="2.8" stroke-width="1.44"/>
<path d="M958,742 C951,743 949,752 954,756 L990,772 C996,774 1000,774 1004,772 L1062,754" />
<path d="M958,742 C962,741 965,742 968,743 L998,756 L1056,741" />
<ellipse cx="1060.5" cy="747.5" rx="6.5" ry="8" transform="rotate(-20 1060.5 747.5)" />
<path d="M910,573.5 L930,583.5 M906,581 L925,590.5" />
<path d="M910,573.5 C905,571 902,580 906,581" />
<path d="M930,583.5 C927,587 925,590 925,590.5" stroke-width="1.68"/>
<path d="M925,596 L937,578.5 C938,577 940,577 942,578 L981,600" />
<path d="M925,596 L926,603 L968,626" />
<path d="M976.5,601.3 L978,602 L979.4,602.9 L980.7,603.8 L982,604.8 L983.2,605.9 L984.2,607 L985.2,608.2 L986,609.4 L986.7,610.7 L987.3,612 L987.7,613.3 L988,614.6 L988.1,615.9 L988.1,617.2 L987.9,618.4 L987.6,619.6 L987.2,620.7 L986.6,621.7 L985.8,622.7 L985,623.6 L984,624.3 L982.9,625 L981.7,625.6 L980.5,626 L979.1,626.3 L977.7,626.5 L976.2,626.6 L974.7,626.6 L973.2,626.4 L971.6,626.1 L970.1,625.7 L968.6,625.1 L967.1,624.5 L965.6,623.8 L964.2,622.9 L962.9,622 L961.7,620.9 L960.5,619.8 L959.5,618.7 L958.6,617.5" />
<path d="M975.5,605.4 L976.8,606.4 L978,607.4 L979.1,608.5 L980,609.7 L980.7,610.9 L981.4,612.2 L981.8,613.4 L982.1,614.7 L982.1,615.9 L982,617 L981.8,618.1 L981.3,619.1 L980.7,620.1 L979.9,620.9 L979,621.6 L978,622.2 L976.8,622.6 L975.5,622.9 L974.1,623.1 L972.7,623.1 L971.2,623 L969.6,622.8 L968.1,622.4 L966.6,621.8 L965.1,621.2 L963.6,620.4 L962.3,619.5 L961,618.5 L959.8,617.4 L958.8,616.3 L957.9,615.1 L957.2,613.9 L956.6,612.7 L956.2,611.4 L955.9,610.2 L955.9,609 L956,607.8 L956.3,606.7 L956.7,605.7 L957.4,604.8 L958.2,604 L959.1,603.3 L960.2,602.8 L961.4,602.3 L962.7,602 L964.1,601.9 L965.5,601.9 L967,602 L968.6,602.3 L970.1,602.7" stroke-width="1.80"/>
<path d="M952,598 C949,603 948,611 951,618" stroke-width="1.80"/>
<ellipse cx="965.5" cy="612.5" rx="4.8" ry="4.5" stroke-width="1.92"/>
<ellipse cx="965.5" cy="612.5" rx="1.8" ry="1.8" stroke-width="1.44"/>
<path d="M714,646 C716,642 720,640 724,638 L751,626 C755,624 760,626 765,631" />
<path d="M765,631 C764,624 770,618 778,618 C786,618 790,623 790,630 C791,636 793,641 795,646 C797,651 797,656 795,659 L773,690 C770,693 765,694 760,692 L718,666 L716,659 C714,654 713,650 714,646" />
<path d="M716,655 L748,670 M718,661 L760,684 M760,684 C763,688 763,690 761,692" stroke-width="1.68"/>
<path d="M769,630 C774,634 782,634 787,630" stroke-width="1.68"/>
<path d="M775,641 C780,642 785,641 789,639" stroke-width="1.56"/>
<ellipse cx="763" cy="652" rx="9" ry="5.5" stroke-width="1.80"/>
<path d="M754,652 L755,661 C757,666 769,666 772,661 L772,652" stroke-width="1.80"/>
<path d="M760,660 L765,660" stroke-width="1.44"/>
<path d="M772,648 C780,649 787,648 793,645" stroke-width="1.68"/>
<path d="M790,650 C783,660 777,671 765,681 M786,652 C780,661 772,670 764,673" stroke-width="1.68"/>
<path d="M627,936 C624,935.5 622,937 620.7,939 L606.5,962 C605,965 606,968 609,970 L668.4,1008.5 C672,1010.5 676,1010.8 680,1010 C688,1008 695,1002 697.5,994 C699,987 696,981 690.4,978.2 L627,936" />
<path d="M690.4,980 C692.5,985 692,992 687,998 C682,1004 676,1007.5 670.2,1008.5" stroke-width="1.92"/>
<path d="M628,946.6 L672,973.2" stroke-width="1.92"/>
<ellipse cx="672.3" cy="988.3" rx="8.8" ry="11" transform="rotate(30 672.3 988.3)" stroke-width="2.04"/>
<ellipse cx="675.5" cy="990" rx="3.8" ry="8" transform="rotate(30 675.5 990)" stroke-width="1.80"/>
<path d="M693.3,882 C686,883 686,893 690.7,897.3 L734,929 C738,933 738,941 733,945 C730,948 725,948.5 722.7,947.5 L686.7,922.7 C681,919 676,917 672.5,920 C668,924 669,931 672,934.7 L700,953.3 L729.3,969.3 C733,971 737,971 740,970.7 L773.3,966 C776,965.5 779,967 781.3,969.3" />
<path d="M693.3,882 C696.6,882.1 706.1,882 713,882.7 C719.9,883.4 727.5,884.7 734.7,886 C741.9,887.3 750,888.7 756,890.7 C762,892.7 768.2,896.8 770.7,898" />
<path d="M698.7,883.3 L754.7,922" stroke-width="1.92"/>
<path d="M685.3,926 L726.7,944 M712,932.7 L732,930.7" stroke-width="1.80"/>
<path d="M754.7,922.7 C755,925.6 757.2,934.5 756.5,940 C755.8,945.5 754.3,950.9 750.7,956 C747.1,961.1 737.4,968.2 734.7,970.7" />
<path d="M797.3,922.7 C797.8,924.9 800.7,930.9 800,936 C799.3,941.1 796.4,947.8 793.3,953.3 C790.2,958.8 783.3,966.6 781.3,969.3" />
<path d="M755,922.7 L830,924 C860,928 890,940 916,953 C930,962 932,975 926,983 C918,990 910,995 908,1003 L908,1021" stroke-width="1.80"/>
<path d="M840,932.5 C856,932 874,934 890,938.5" stroke-width="1.56"/>
<path d="M769.5,898 L797,921" />
<path d="M769.5,897.8 C770.4,897.6 772.7,896.1 775,896.5 C777.3,896.9 780.5,898.4 783.3,900 C786.1,901.6 789.2,903.8 792,906 C794.8,908.2 797.7,911.2 800,913 C802.3,914.8 803.7,916.1 806,916.8 C808.3,917.5 811.5,917.7 814,917.3 C816.5,916.9 819.8,915 821,914.5" />
<path d="M803,885 C799,886 798.5,891 801,894 L818,908 C821,910 824,911 826,910" />
<path d="M803,885 L846,874 C855,872.5 862,872.5 868,873 C872,873.5 875,874.5 877,876 L907,893 C925,902 945,915 956,932 C961,945 958,960 953,970 L941,995 C937,1003 930,1012 922,1017 L910,1023 L851.7,1050.8" />
<path d="M851.7,1050.8 C851.1,1050.7 852.2,1051.5 848.3,1050 C844.4,1048.5 834.1,1044.8 828.3,1041.7 C822.5,1038.7 816.6,1034.8 813.3,1031.7 C810,1028.6 810.6,1030 808.3,1023.3 C805.9,1016.6 801.3,998.1 799.2,991.7 C797.1,985.3 798.6,988.6 795.8,985 C793,981.4 786,973.2 782.5,970 C779,966.8 776.2,966.5 775,965.8" />
<path d="M826,910 L877,892 L902,891" stroke-width="1.92"/>
<path d="M804,887.5 L820,898 C826,902 828,908 824,913 M846,875 L875,891" stroke-width="1.68"/>
<path d="M916.7,919 C930,926 940,938 945,953 C947,961 945,965 942.5,968" stroke-width="1.68"/>
<path d="M782.5,969.5 L802,971 C805,970 807,968 810,966" stroke-width="1.80"/>
<path d="M802.5,971.7 C804.2,973.6 808.5,979.5 812.5,983.3 C816.5,987 822.4,991.1 826.7,994.2 C831,997.3 835.7,999.4 838.3,1001.7 C840.9,1004.1 841.7,1005.5 842.5,1008.3 C843.3,1011.1 843.3,1013.4 843.3,1018.3 C843.3,1023.2 841.5,1032.1 842.5,1037.5 C843.5,1042.9 848.1,1048.6 849.2,1050.8" stroke-width="1.80"/>
<ellipse cx="822" cy="971" rx="8" ry="9.5" transform="rotate(30 822 971)" stroke-width="1.92"/>
<path d="M815,975 C818,980 826,979 829,973" stroke-width="1.44"/>
<path d="M834,973 L827.5,994" stroke-width="1.68"/>
<ellipse cx="875" cy="1007.5" rx="10" ry="13" transform="rotate(10 875 1007.5)" stroke-width="2.04"/>
<ellipse cx="925" cy="1003" rx="8.5" ry="9" transform="rotate(35 925 1003)" stroke-width="1.92"/>
<path d="M918,1009 C922,1013 930,1012 933,1006" stroke-width="1.44"/>
<path d="M562.7,575.3 C562.7,573.6 561.8,567 563.1,564.7 C564.3,562.3 567.5,561.8 570,561.3 C572.5,560.8 576,561.2 578,561.7 C580,562.3 581.2,562.4 582,564.7 C582.8,566.9 582.6,573.6 582.7,575.3" />
<path d="M562.7,575.3 C563.9,575.8 566.7,578 570,578 C573.3,578 580.6,575.8 582.7,575.3" stroke-width="1.80"/>
<path d="M561.3,582.7 C563,583.1 567.8,585.3 571.3,585.3 C574.9,585.3 580.8,583.1 582.7,582.7" stroke-width="1.80"/>
<path d="M562,590 C563.6,590.3 568,592.1 571.3,592 C574.7,591.9 580.2,589.8 582,589.3" stroke-width="1.80"/>
<path d="M567.3,596 C568.4,596.2 572,597.4 574,597.3 C576,597.2 578.4,595.7 579.3,595.3" stroke-width="1.68"/>
<path d="M562.7,575.3 L560.7,588.7 M582.7,575.3 L584,594" />
<path d="M552.7,600.7 C552.4,599.6 550.9,595.9 551.3,594 C551.8,592.1 553.8,590 555.3,589.3 C556.9,588.7 559.4,589 560.7,590 C561.9,591 562.6,593.6 562.7,595.3 C562.8,597.1 561.6,599.8 561.3,600.7" />
<path d="M552.7,600.7 C551.8,600.2 549.8,598.2 547.3,598 C544.9,597.8 540.4,598.4 538,599.3 C535.6,600.2 534,601.8 532.7,603.3 C531.3,604.9 531.1,606.4 530,608.7 C528.9,610.9 528.7,614.2 526,616.7 C523.3,619.1 517.8,620.7 514,623.3 C510.2,626 506,629.6 503.3,632.7 C500.7,635.8 498.4,638.7 498,642 C497.6,645.3 498.7,650.2 500.7,652.7 C502.7,655.1 508.1,654.4 510,656.7 C511.9,658.9 510.9,662.7 512,666 C513.1,669.3 513,674 516.7,676.7 C520.3,679.3 529.1,680.4 534,682 C538.9,683.6 543.8,683.6 546,686 C548.2,688.4 545.1,693.6 547.3,696.7 C549.6,699.8 554.7,703.6 559.3,704.7 C564,705.8 570,703.8 575.3,703.3 C580.7,702.9 587.3,703.6 591.3,702 C595.3,700.4 597.8,696 599.3,694 C600.9,692 598.4,691.1 600.7,690 C602.9,688.9 609.3,688.9 612.7,687.3 C616,685.8 619.8,683.6 620.7,680.7 C621.6,677.8 620,673.1 618,670 C616,666.9 611.1,664 608.7,662 C606.2,660 604,660.4 603.3,658 C602.7,655.6 604.2,650.7 604.7,647.3 C605.1,644 604.9,640.9 606,638 C607.1,635.1 610.3,634.2 611.3,630 C612.3,625.8 613.3,616.7 612,612.7 C610.7,608.7 607.2,608 603.3,606 C599.4,604 591.8,602.7 588.7,600.7 C585.6,598.7 585.3,595.1 584.7,594" />
<path d="M554,600.7 C554.2,601.8 554.2,605.1 555.3,607.3 C556.4,609.6 559.1,612 560.7,614 C562.2,616 563.6,617.6 564.7,619.3 C565.8,621.1 566.7,622.9 567.3,624.7 C568,626.4 568.4,629.1 568.7,630" stroke-width="1.80"/>
<path d="M559.3,612.7 C561.1,611.6 567.3,607.8 570,606 C572.7,604.2 574.4,602.7 575.3,602" stroke-width="1.68"/>
<path d="M551.3,607.3 C550,608.2 545.1,610.7 543.3,612.7 C541.6,614.7 541.2,616.2 540.7,619.3 C540.1,622.4 540.1,629.3 540,631.3" stroke-width="1.68"/>
<path d="M552.7,615.3 C552,616.2 549.2,618.7 548.7,620.7 C548.1,622.7 548,625.6 549.3,627.3 C550.7,629.1 554.1,630.9 556.7,631.3 C559.2,631.8 563.3,630.2 564.7,630" stroke-width="1.80"/>
<path d="M556.7,630 C557.1,628.9 558,625.1 559.3,623.3 C560.7,621.6 563.8,620 564.7,619.3" stroke-width="1.56"/>
<path d="M560.7,632.7 C563.3,631.8 572,628.7 576.7,627.3 C581.3,626 583.8,626.2 588.7,624.7 C593.6,623.1 603.1,619.1 606,618" stroke-width="1.92"/>
<path d="M554,638 C557.1,637.6 566.9,636.7 572.7,635.3 C578.4,634 583.3,631.8 588.7,630 C594,628.2 602,625.6 604.7,624.7" stroke-width="1.92"/>
<path d="M531.3,630 C531.8,630.9 532,634 534,635.3 C536,636.7 540.2,637.1 543.3,638 C546.4,638.9 550,639.8 552.7,640.7 C555.3,641.6 556.4,643.1 559.3,643.3 C562.2,643.6 566,643.1 570,642 C574,640.9 581.1,637.6 583.3,636.7" stroke-width="1.80"/>
<path d="M588.7,610 C588.2,611.1 586.2,614.9 586,616.7 C585.8,618.4 587.1,620 587.3,620.7" stroke-width="1.56"/>
<path d="M516.7,646 C517.6,645.3 519.8,642.4 522,642 C524.2,641.6 528.7,643.1 530,643.3" stroke-width="1.68"/>
<path d="M512.7,655.3 C514.7,656 521.6,658.9 524.7,659.3 C527.8,659.8 530.2,658.2 531.3,658" stroke-width="1.68"/>
<path d="M530,630 C527.8,630.7 519.8,631.8 516.7,634 C513.6,636.2 512.4,639.6 511.3,643.3 C510.2,647.1 510.2,654.4 510,656.7" stroke-width="1.80"/>
<path d="M582,642 C582.7,641.1 583.8,637.8 586,636.7 C588.2,635.6 592.4,634.2 595.3,635.3 C598.2,636.4 602.2,639.8 603.3,643.3 C604.4,646.9 604,654 602,656.7 C600,659.3 594.4,659.3 591.3,659.3 C588.2,659.3 585.1,658 583.3,656.7 C581.6,655.3 580.9,653.8 580.7,651.3 C580.4,648.9 581.8,643.6 582,642" stroke-width="1.92"/>
<path d="M544.7,651.3 C546.7,652.2 553.3,655.6 556.7,656.7 C560,657.8 561.3,658.2 564.7,658 C568,657.8 573.6,655.6 576.7,655.3 C579.8,655.1 582.2,656.4 583.3,656.7" stroke-width="1.68"/>
<path d="M535.3,667.3 C537.8,668.7 546,674.9 550,675.3 C554,675.8 556,671.3 559.3,670 C562.7,668.7 564.7,667.8 570,667.3 C575.3,666.9 587.8,667.3 591.3,667.3" stroke-width="1.80"/>
<path d="M544.7,666 L547.3,667.3" stroke-width="1.56"/>
<path d="M559.3,670 C558.7,671.8 555.8,678.4 555.3,680.7 C554.9,682.9 556.4,682.9 556.7,683.3" stroke-width="1.56"/>
<path d="M566,670 C565.3,671.1 562.9,674 562,676.7 C561.1,679.3 560.9,684.4 560.7,686" stroke-width="1.56"/>
<path d="M570,676.7 C569.6,677.8 567.6,680.4 567.3,683.3 C567.1,686.2 566.9,691.8 568.7,694 C570.4,696.2 575.8,697.8 578,696.7 C580.2,695.6 581.1,687.8 582,687.3 C582.9,686.9 581.6,692.4 583.3,694 C585.1,695.6 590.4,697.3 592.7,696.7 C594.9,696 596.2,692.4 596.7,690 C597.1,687.6 596.9,684.4 595.3,682 C593.8,679.6 590.2,676.2 587.3,675.3 C584.4,674.4 579.6,676.4 578,676.7" stroke-width="1.80"/>
<path d="M599.3,667.3 C598.9,668.9 596.9,673.3 596.7,676.7 C596.4,680 596.2,685.1 598,687.3 C599.8,689.6 605.8,689.6 607.3,690" stroke-width="1.68"/>
<path d="M610,670 C609.3,671.1 606.2,674 606,676.7 C605.8,679.3 607.6,684 608.7,686 C609.8,688 612,688.2 612.7,688.7" stroke-width="1.68"/>
<path d="M544.7,686 C545.6,686.9 548,690.2 550,691.3 C552,692.4 554.7,691.6 556.7,692.7 C558.7,693.8 560.7,696.7 562,698 C563.3,699.3 564.2,700.2 564.7,700.7" stroke-width="1.56"/>
<path d="M518,676.7 C520.7,677.8 529.8,681.6 534,683.3 C538.2,685.1 541.8,686.7 543.3,687.3" stroke-width="1.56"/>
</g>
</g>
<g>
<path d="M929.7,218.1 L934.4,216.1 L934.8,228.6" fill="none" stroke="#111" stroke-width="2.4" stroke-linecap="round" stroke-linejoin="round"/>
<text class="t" transform="translate(661.9,178) scale(1.22,1)">2</text>
<text class="t" transform="translate(755.4,372) scale(1.22,1)">3</text>
<text class="t" transform="translate(549.8,406.7) scale(1.22,1)">4</text>
<text class="t" transform="translate(494.9,340.7) scale(1.22,1)">5</text>
<text class="t" transform="translate(693.9,469) scale(1.22,1)">5</text>
<text class="t" transform="translate(351.8,440) scale(1.22,1)">7</text>
<text class="t" transform="translate(151.8,532) scale(1.22,1)">9</text>
<text class="t" transform="translate(206.4,577) scale(1.22,1)">6</text>
<text class="t" transform="translate(286.7,626) scale(1.22,1)">8</text>
<path d="M363.7,654.2 L368.4,652.2 L368.8,664.7" fill="none" stroke="#111" stroke-width="2.4" stroke-linecap="round" stroke-linejoin="round"/>
<text class="t" transform="translate(382,665.8) scale(1.22,1)">0</text>
<path d="M798.0,591.9 L802.7,589.9 L803.1,602.4" fill="none" stroke="#111" stroke-width="2.4" stroke-linecap="round" stroke-linejoin="round"/>
<text class="t" transform="translate(816.2,603.5) scale(1.22,1)">6</text>
<text class="t" transform="translate(865,515.4) scale(1.22,1)">2</text>
<text class="t" transform="translate(880.4,515.4) scale(1.22,1)">4</text>
<text class="t" transform="translate(1004.3,555.8) scale(1.22,1)">2</text>
<text class="t" transform="translate(1018.7,555.8) scale(1.22,1)">3</text>
<text class="t" transform="translate(774.3,779) scale(1.22,1)">2</text>
<text class="t" transform="translate(788.7,779) scale(1.22,1)">2</text>
<text class="t" transform="translate(863.6,814.3) scale(1.22,1)">2</text>
<path d="M874.7,802.7 L879.4,800.7 L879.8,813.2" fill="none" stroke="#111" stroke-width="2.4" stroke-linecap="round" stroke-linejoin="round"/>
<text class="t" transform="translate(982.3,835) scale(1.22,1)">2</text>
<text class="t" transform="translate(997.7,835) scale(1.22,1)">0</text>
<path d="M434.2,788.4 L438.9,786.4 L439.3,798.9" fill="none" stroke="#111" stroke-width="2.4" stroke-linecap="round" stroke-linejoin="round"/>
<text class="t" transform="translate(452.2,800) scale(1.22,1)">9</text>
<path d="M156.2,943.7 L160.9,941.7 L161.3,954.2" fill="none" stroke="#111" stroke-width="2.4" stroke-linecap="round" stroke-linejoin="round"/>
<text class="t" transform="translate(173.7,955.3) scale(1.22,1)">4</text>
<path d="M207.7,985.4 L212.4,983.4 L212.8,995.9" fill="none" stroke="#111" stroke-width="2.4" stroke-linecap="round" stroke-linejoin="round"/>
<text class="t" transform="translate(225.5,997) scale(1.22,1)">3</text>
<path d="M292.2,1045.4 L296.9,1043.4 L297.3,1055.9" fill="none" stroke="#111" stroke-width="2.4" stroke-linecap="round" stroke-linejoin="round"/>
<path d="M308.5,1045.4 L313.2,1043.4 L313.6,1055.9" fill="none" stroke="#111" stroke-width="2.4" stroke-linecap="round" stroke-linejoin="round"/>
<path d="M404.9,1067.4 L409.6,1065.4 L410.0,1077.9" fill="none" stroke="#111" stroke-width="2.4" stroke-linecap="round" stroke-linejoin="round"/>
<text class="t" transform="translate(423.1,1079) scale(1.22,1)">2</text>
<path d="M592.9,1040.1 L597.6,1038.1 L598.0,1050.6" fill="none" stroke="#111" stroke-width="2.4" stroke-linecap="round" stroke-linejoin="round"/>
<text class="t" transform="translate(610.4,1051.7) scale(1.22,1)">7</text>
<path d="M787.9,1090.1 L792.6,1088.1 L793.0,1100.6" fill="none" stroke="#111" stroke-width="2.4" stroke-linecap="round" stroke-linejoin="round"/>
<text class="t" transform="translate(805.4,1101.7) scale(1.22,1)">5</text>
<path d="M950.9,1126.7 L955.6,1124.7 L956.0,1137.2" fill="none" stroke="#111" stroke-width="2.4" stroke-linecap="round" stroke-linejoin="round"/>
<text class="t" transform="translate(969.7,1138.3) scale(1.22,1)">8</text>
</g>
</svg>
</body></html>
